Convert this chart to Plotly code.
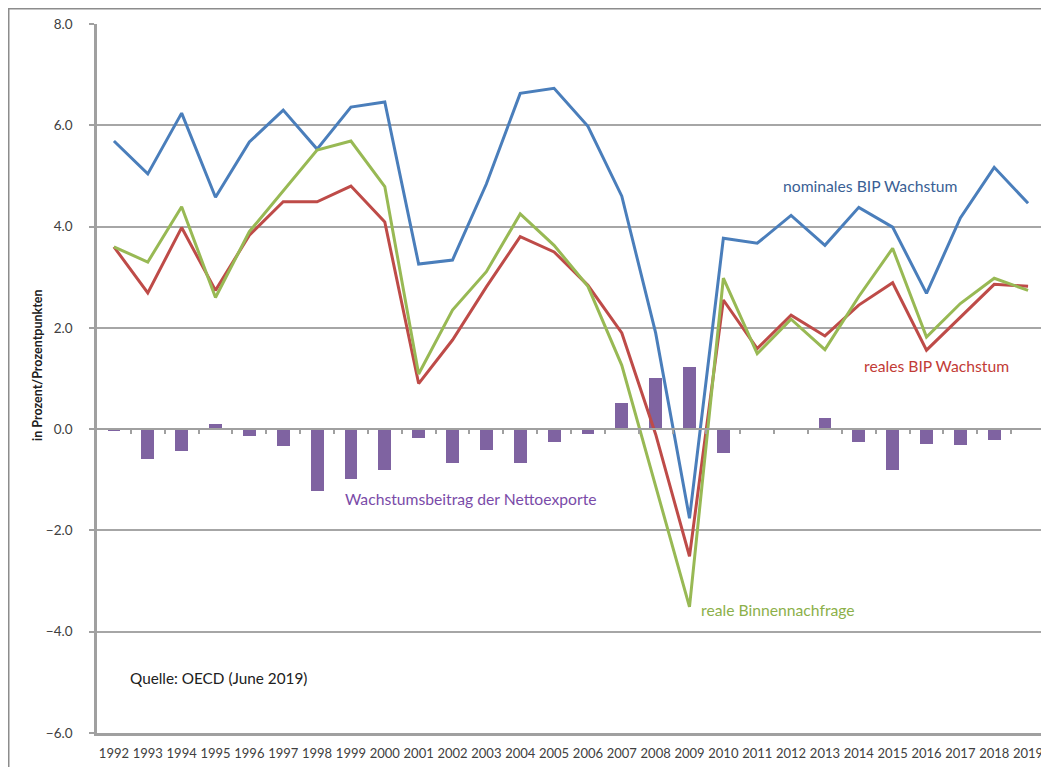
import plotly.graph_objects as go

years = [str(y) for y in range(1992, 2020)]

nominal_gdp = [5.69, 5.04, 6.24, 4.58, 5.67, 6.30, 5.53, 6.36, 6.46, 3.26,
               3.34, 4.84, 6.63, 6.73, 5.98, 4.60, 1.90, -1.76, 3.77, 3.67,
               4.22, 3.63, 4.38, 3.99, 2.68, 4.17, 5.17, 4.46]

real_gdp = [3.60, 2.69, 3.98, 2.74, 3.83, 4.49, 4.49, 4.80, 4.09, 0.90,
            1.76, 2.81, 3.80, 3.50, 2.84, 1.90, -0.10, -2.51, 2.55, 1.59,
            2.25, 1.84, 2.45, 2.89, 1.56, 2.22, 2.86, 2.82]

domestic_demand = [3.60, 3.30, 4.39, 2.60, 3.90, 4.70, 5.51, 5.69, 4.79, 1.09,
                   2.35, 3.11, 4.25, 3.63, 2.82, 1.26, -1.10, -3.51, 2.98, 1.49,
                   2.17, 1.57, 2.62, 3.57, 1.82, 2.48, 2.98, 2.74]

net_exports = [-0.03, -0.59, -0.43, 0.11, -0.13, -0.34, -1.22, -0.99, -0.80, -0.18,
               -0.66, -0.41, -0.66, -0.26, -0.09, 0.51, 1.01, 1.22, -0.47, 0.0,
               0.0, 0.22, -0.25, -0.81, -0.30, -0.32, -0.21, 0.02]

y_ticks = [-6, -4, -2, 0, 2, 4, 6, 8]

# the page body has an 8px default margin; compensate so positions match the window
OFF = 8
W, H = 1049 - OFF, 767 - OFF
L, R, T, B = 97 - OFF, 1045 - OFF, 24 - OFF, 733 - OFF
YMIN, YMAX = -6, 8

def xp(px):
    return (px - OFF - L) / (R - L)

def yp(py):
    return (B - (py - OFF)) / (B - T)

FONT = "Lato, 'Open Sans', sans-serif"
n = len(years)

fig = go.Figure()

fig.add_trace(go.Bar(x=years, y=net_exports, marker=dict(color="#7F63A1", line=dict(width=0)),
                     width=0.38, name="Wachstumsbeitrag der Nettoexporte", showlegend=False,
                     hoverinfo="x+y"))
fig.add_trace(go.Scatter(x=years, y=nominal_gdp, mode="lines", line=dict(color="#4A7EBB", width=3),
                         name="nominales BIP Wachstum", showlegend=False))
fig.add_trace(go.Scatter(x=years, y=real_gdp, mode="lines", line=dict(color="#BE4B48", width=3),
                         name="reales BIP Wachstum", showlegend=False))
fig.add_trace(go.Scatter(x=years, y=domestic_demand, mode="lines", line=dict(color="#98B954", width=3),
                         name="reale Binnennachfrage", showlegend=False))
# helper trace for the category axis drawn through zero
fig.add_trace(go.Scatter(x=[-0.5, n - 0.5], y=[0, 0], xaxis="x2", mode="lines",
                         line=dict(width=0, color="rgba(0,0,0,0)"), hoverinfo="skip", showlegend=False))

fig.update_layout(
    width=W, height=H,
    margin=dict(l=L, r=W - R, t=T, b=H - B, pad=0),
    paper_bgcolor="white", plot_bgcolor="white",
    font=dict(family=FONT, size=13, color="#404040"),
    bargap=0,
    xaxis=dict(type="category", categoryorder="array", categoryarray=years,
               range=[-0.5, n - 0.5], showgrid=False, zeroline=False,
               showline=True, linecolor="#A0A0A0", linewidth=2.5,
               ticks="", ticklabelstandoff=7,
               tickfont=dict(family=FONT, size=13, color="#404040")),
    xaxis2=dict(type="linear", overlaying="x", anchor="free",
                position=(0 - YMIN) / (YMAX - YMIN),
                range=[-0.5, n - 0.5], showgrid=False, zeroline=False,
                showline=True, linecolor="#A0A0A0", linewidth=2,
                ticks="outside", ticklen=4, tickwidth=1.5, tickcolor="#A0A0A0",
                tickvals=[i + 0.5 for i in range(n - 1)], showticklabels=False),
    yaxis=dict(range=[YMIN, YMAX], tickvals=y_ticks, tickformat=".1f",
               showgrid=True, gridcolor="#A6A6A6", gridwidth=1.5,
               zeroline=False, showline=True, linecolor="#A0A0A0", linewidth=2.5,
               ticks="outside", ticklen=5, tickcolor="#A0A0A0", tickwidth=1.5,
               ticklabelstandoff=14,
               tickfont=dict(family=FONT, size=13.5, color="#404040")),
)

# outer frame
fig.add_shape(type="rect", xref="paper", yref="paper",
              x0=xp(8.75), x1=xp(1070), y0=yp(790), y1=yp(8.75),
              line=dict(color="#8C8C8C", width=1.5), fillcolor="rgba(0,0,0,0)", layer="below")

def label(text, left_px, center_py, color, size=15.7, bold=False):
    fig.add_annotation(text=f"<b>{text}</b>" if bold else text,
                       xref="paper", yref="paper", x=xp(left_px), y=yp(center_py),
                       xanchor="left", yanchor="middle", showarrow=False,
                       font=dict(family=FONT, size=size, color=color))

label("nominales BIP Wachstum", 781, 186, "#3A5F95")
label("reales BIP Wachstum", 862, 366, "#C23B36")
label("Wachstumsbeitrag der Nettoexporte", 343, 499, "#7A4BA8")
label("reale Binnennachfrage", 699, 610, "#8CB04A")
label("Quelle: OECD (June 2019)", 128, 678, "#202020", size=15.3)

fig.add_annotation(text="<b>in Prozent/Prozentpunkten</b>", xref="paper", yref="paper",
                   x=xp(37), y=yp(365), xanchor="center", yanchor="middle",
                   textangle=-90, showarrow=False,
                   font=dict(family=FONT, size=12.5, color="#202020"))

fig.write_html("out.html")
